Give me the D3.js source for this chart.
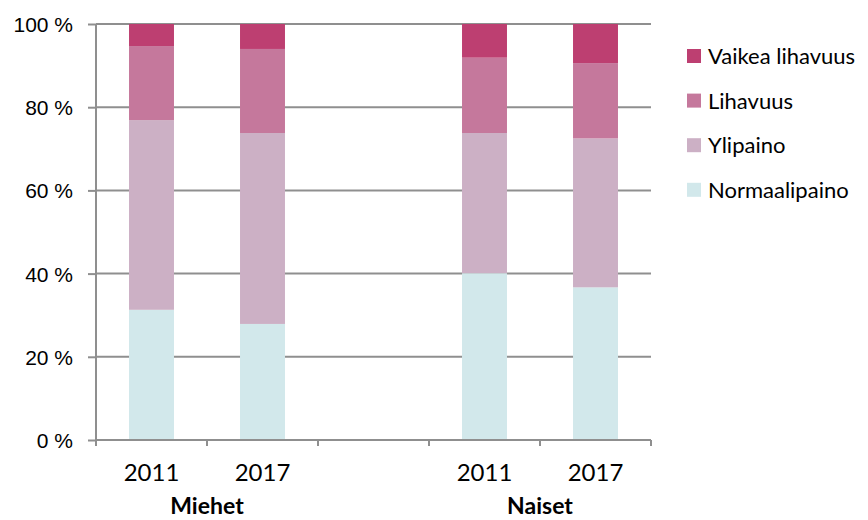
<!DOCTYPE html>
<html>
<head>
<meta charset="utf-8">
<script src="https://cdn.jsdelivr.net/npm/d3@7"></script>
<style>
  body { margin: 0; background: #fff; }
  svg { display: block; font-family: Lato, "Open Sans", sans-serif; }
  .axis path, .axis line { stroke: #8f8f8f; stroke-width: 2px; }
  .axis text { fill: #000; }
</style>
</head>
<body>
<svg class="main"></svg>
<script>
var width = 868,
    height = 520;

// slots along the x axis; the middle one is an empty gap
var slots = ['M2011', 'M2017', 'gap', 'N2011', 'N2017'],
    years = ['2011', '2017', '', '2011', '2017'],
    groups = ['Miehet', 'Naiset'],
    groupSlots = [['M2011', 'M2017'], ['N2011', 'N2017']];

// percent shares, bottom to top
var normaalipaino = [31.3, 27.9, 0, 40.1, 36.7],
    ylipaino = [45.6, 45.9, 0, 33.7, 35.8],
    lihavuus = [17.8, 20.2, 0, 18.1, 18.1],
    vaikeaLihavuus = [5.3, 6.0, 0, 8.1, 9.4];

var seriesNames = ['Normaalipaino', 'Ylipaino', 'Lihavuus', 'Vaikea lihavuus'],
    seriesColors = ['#d2e8eb', '#ccb0c5', '#c5789c', '#bd3f71'],
    yTicks = [0, 20, 40, 60, 80, 100];

var seriesValues = [normaalipaino, ylipaino, lihavuus, vaikeaLihavuus];

var rows = slots.map(function(s, i) {
    var r = { slot: s };
    seriesNames.forEach(function(n, j) { r[n] = seriesValues[j][i]; });
    return r;
});

var margin = { left: 96, right: 217, top: 24, bottom: 80 };

var svg = d3.select('.main')
    .attr('width', width)
    .attr('height', height);

var x = d3.scaleBand()
    .domain(slots)
    .range([margin.left, width - margin.right])
    .padding(0);

var y = d3.scaleLinear()
    .domain([0, 100])
    .range([height - margin.bottom, margin.top]);

// gridlines
svg.append('g')
    .selectAll('line')
    .data(yTicks.slice(1))
    .enter().append('line')
    .attr('x1', margin.left)
    .attr('x2', width - margin.right)
    .attr('y1', function(d) { return y(d); })
    .attr('y2', function(d) { return y(d); })
    .attr('stroke', '#8f8f8f')
    .attr('stroke-width', 2);

// stacked bars
var stack = d3.stack().keys(seriesNames);
var layers = stack(rows);
var barW = x.bandwidth() * 0.405;

svg.append('g')
    .selectAll('g')
    .data(layers)
    .enter().append('g')
    .attr('fill', function(d, i) { return seriesColors[i]; })
    .selectAll('rect')
    .data(function(d) { return d.filter(function(p) { return p.data.slot !== 'gap'; }); })
    .enter().append('rect')
    .attr('x', function(d) { return x(d.data.slot) + (x.bandwidth() - barW) / 2; })
    .attr('width', barW)
    .attr('y', function(d) { return y(d[1]); })
    .attr('height', function(d) { return y(d[0]) - y(d[1]); });

// y axis
var yAxis = d3.axisLeft(y)
    .tickValues(yTicks)
    .tickSize(8)
    .tickPadding(15)
    .tickFormat(function(d) { return d + ' %'; });

svg.append('g')
    .attr('class', 'axis')
    .attr('transform', 'translate(' + margin.left + ',0)')
    .call(yAxis)
    .call(function(g) { g.select('.domain').attr('d', 'M0,' + y(0) + 'V' + y(100)); })
    .selectAll('text')
    .style('font-size', '21px')
    .attr('dy', '0.36em');

// x axis line with ticks at slot boundaries
var bounds = slots.map(function(s) { return x(s); }).concat([x.range()[1]]);
var xg = svg.append('g').attr('class', 'axis');
xg.append('path')
    .attr('d', 'M' + margin.left + ',' + y(0) + 'H' + x.range()[1])
    .attr('fill', 'none');
xg.selectAll('line')
    .data(bounds)
    .enter().append('line')
    .attr('x1', function(d) { return d; })
    .attr('x2', function(d) { return d; })
    .attr('y1', y(0))
    .attr('y2', y(0) + 6);

xg.selectAll('text.year')
    .data(slots)
    .enter().append('text')
    .attr('class', 'year')
    .attr('x', function(d) { return x(d) + x.bandwidth() / 2; })
    .attr('y', 481)
    .attr('text-anchor', 'middle')
    .style('font-size', '24px')
    .text(function(d, i) { return years[i]; });

svg.selectAll('text.group')
    .data(groups)
    .enter().append('text')
    .attr('class', 'group')
    .attr('x', function(d, i) {
        var s = groupSlots[i];
        return (x(s[0]) + x(s[1]) + x.bandwidth()) / 2;
    })
    .attr('y', 514)
    .attr('text-anchor', 'middle')
    .style('font-size', '23px')
    .style('font-weight', 'bold')
    .text(function(d) { return d; });

// legend, top entry is the top layer
var legend = svg.append('g')
    .attr('transform', 'translate(687,56)');

var legendItems = legend.selectAll('g')
    .data(seriesNames.slice().reverse())
    .enter().append('g')
    .attr('transform', function(d, i) { return 'translate(0,' + (i * 44.6) + ')'; });

legendItems.append('rect')
    .attr('x', 0)
    .attr('y', -7)
    .attr('width', 14)
    .attr('height', 14)
    .attr('fill', function(d) { return seriesColors[seriesNames.indexOf(d)]; });

legendItems.append('text')
    .attr('x', 21)
    .attr('dy', '0.36em')
    .style('font-size', '22px')
    .text(function(d) { return d; });
</script>
</body>
</html>
